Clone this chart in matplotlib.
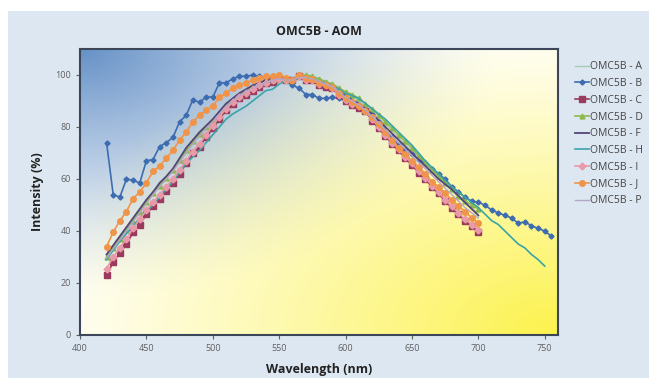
import numpy as np
import matplotlib
matplotlib.use("Agg")
import matplotlib.pyplot as plt
from matplotlib.patches import Rectangle

plt.rcParams['font.family'] = ['Open Sans', 'DejaVu Sans']

# wavelength grid (nm)
wl = list(range(420, 705, 5))
wl_h = list(range(420, 755, 5))
wl_b = list(range(420, 760, 5))

a = [30.5, 34, 37.5, 41, 44.5, 48, 51.5, 55, 58, 61,
     64, 67.5, 71.5, 75, 78, 80.5, 83, 86, 89, 91,
     93, 94.5, 96, 97, 97.5, 98, 98.5, 98, 98, 99,
     99.5, 99, 98, 97, 96, 94.5, 93, 91.5, 90, 88,
     86, 83.5, 81, 78.5, 76, 73.5, 71, 68.5, 65.5, 63,
     60.5, 58, 55.5, 53, 50.5, 48.5, 47]
b = [74, 54, 53, 60, 59.5, 58.5, 67, 67.5, 72.5, 74,
     76, 82, 84.5, 90.5, 89.5, 91.5, 91.5, 97, 97, 98.5,
     99.5, 99.5, 100, 99.5, 99, 99, 98.5, 98, 96, 95,
     92.5, 92.5, 91, 91, 91.5, 91, 90, 89, 88.5, 87,
     85, 82, 79, 76, 73, 71, 69.5, 67.5, 66, 64,
     62, 60, 57, 55, 53, 51.5, 51, 50, 48, 47,
     46, 45, 43, 43.5, 42, 41, 40, 38]
c = [23, 28, 31.5, 35, 39.5, 42.5, 46.5, 49.5, 52.5, 55.5,
     58.5, 62, 66, 70, 72.5, 76, 79.5, 83, 86.5, 89,
     91, 92.5, 94, 95.5, 97, 97.5, 98.5, 98, 98, 99.5,
     98, 98, 96, 95.5, 95, 92.5, 90, 88.5, 87.5, 86,
     82.5, 79.5, 76.5, 73.5, 71, 68, 65.5, 62.5, 60, 57,
     54.5, 51.5, 49, 46.5, 44, 42, 39.5]
d = [30, 33.5, 37, 40.5, 44, 47.5, 51, 54.5, 57.5, 60.5,
     63.5, 67.5, 71, 74.5, 77.5, 80, 82.5, 85.5, 88.5, 90.5,
     92.5, 94, 95.5, 96.5, 97.5, 98, 98.5, 98, 98, 99.5,
     100, 99.5, 98.5, 97.5, 96.5, 95, 93.5, 92.5, 91, 89,
     87, 84.5, 82, 79.5, 77, 74.5, 72, 69, 66.5, 63.5,
     61, 58.5, 56, 53.5, 51.5, 50, 48.5]
f = [31, 34.5, 38, 41.5, 45, 48.5, 52, 55, 58.5, 61,
     64, 68, 72, 75, 78, 80.5, 83, 86, 89, 91,
     93, 94.5, 96, 97, 98, 98.5, 99, 98.5, 98.5, 99,
     99, 98, 97, 96, 95, 93.5, 92, 90.5, 89, 87,
     85, 82.5, 80, 77.5, 75, 72.5, 70, 67.5, 65, 62.5,
     60, 58, 56, 53.5, 51, 48.5, 46]
h = [29, 32.5, 36, 39, 42, 45, 47.5, 50, 53, 56,
     59, 62.5, 66, 68.5, 71, 74, 77, 80, 83, 85,
     86.5, 88, 90, 92, 94, 94.5, 96.5, 98, 98.5, 98.5,
     99, 98.5, 97.5, 97, 96, 94.5, 93, 92, 91, 89,
     87, 85, 83, 80.5, 78, 75.5, 73, 70, 67, 64.5,
     62, 59.5, 57, 55, 53, 51, 49, 46.5, 44, 42.5,
     40, 37.5, 35, 33.5, 31, 29, 26.5]
i = [25.5, 30, 33.5, 37, 41, 44.5, 48, 51, 54, 57,
     60, 63.5, 67, 70.5, 73.5, 77, 80.5, 84, 87, 89.5,
     91.5, 93, 94.5, 96, 97, 98, 98.5, 98, 98, 99.5,
     98, 98, 96.5, 96, 95, 92.5, 90.5, 89, 88, 86,
     83, 80, 77, 74, 71.5, 68.5, 66, 63, 60.5, 57.5,
     55, 52, 49.5, 47, 44.5, 42.5, 40.5]
j = [34, 39.5, 44, 47.5, 52.5, 55, 58.5, 63, 65, 68,
     71, 75, 78, 82, 84.5, 86.5, 88, 91.5, 93, 95,
     96, 97, 98, 99, 99.5, 99.5, 100, 99, 98, 100,
     99, 98.5, 97, 96, 95.5, 93, 91, 89.5, 88, 86,
     84, 81, 78, 75, 72, 69.5, 67, 64.5, 62, 59,
     57, 54.5, 52, 49.5, 47.5, 45, 43]
p = [29.5, 33, 36.5, 40, 43.5, 47, 50.5, 54, 57, 60,
     63, 66.5, 70, 73.5, 76.5, 79.5, 82, 85, 88, 90,
     92, 93.5, 95, 96, 97, 98, 98.5, 98, 98, 99,
     99, 98.5, 97.5, 96.5, 95.5, 93.5, 91.5, 90, 88.5, 86.5,
     84, 81.5, 79, 76.5, 74, 71.5, 69, 66.5, 64, 61.5,
     59, 56.5, 54, 51.5, 49, 47, 45]

series = [
    ("OMC5B - A", wl, a, "#a9c9b8", None, 1.0, 0),
    ("OMC5B - B", wl_b, b, "#3d6db0", "D", 1.2, 2.6),
    ("OMC5B - C", wl, c, "#9b3a5c", "s", 1.2, 4),
    ("OMC5B - D", wl, d, "#8cb84e", "^", 1.2, 3.5),
    ("OMC5B - F", wl, f, "#54457a", None, 1.3, 0),
    ("OMC5B - H", wl_h, h, "#3aa3a9", None, 1.2, 0),
    ("OMC5B - I", wl, i, "#e99aa8", "D", 1.2, 3.5),
    ("OMC5B - J", wl, j, "#f0944a", "o", 1.2, 4),
    ("OMC5B - P", wl, p, "#b3a6c9", None, 1.0, 0),
]

fig = plt.figure(figsize=(6.49, 3.78), dpi=100)
fig.patch.set_facecolor("white")
fig.patches.append(Rectangle((8 / 649, 0), 1, 1 - 11 / 378, transform=fig.transFigure,
                             facecolor="#dde7f2", edgecolor="none", zorder=-10))

ax = fig.add_axes([80 / 649, 43 / 378, 478 / 649, 286 / 378])

# background gradient: blue from top-left corner, yellow from bottom-right corner
n = 240
u, v = np.meshgrid(np.linspace(0, 1, n), np.linspace(1, 0, n))
d_tl = np.hypot(u, 1 - v) / np.sqrt(2)
d_br = np.hypot(1 - u, v) / np.sqrt(2)
wb = np.clip(1 - d_tl / 0.62, 0, 1) ** 1.3
wy = np.clip(1 - d_br / 0.8, 0, 1) ** 1.1
blue = np.array([0.40, 0.57, 0.78])
yellow = np.array([0.99, 0.95, 0.30])
img = np.ones((n, n, 3))
img = img * (1 - wb[..., None]) + blue * wb[..., None]
img = img * (1 - wy[..., None]) + yellow * wy[..., None]
ax.imshow(img, extent=(0, 1, 0, 1), transform=ax.transAxes, aspect="auto", zorder=0)

for name, x, y, col, mk, lw, ms in series:
    ax.plot(x, y, color=col, lw=lw, marker=mk, ms=ms, mec=col, label=name, zorder=3)

ax.set_xlim(400, 760)
ax.set_ylim(0, 110)
ax.set_xticks(range(400, 760, 50))
ax.set_yticks(range(0, 101, 20))
ax.tick_params(labelsize=6.5, colors="#606060", length=3)
for s in ax.spines.values():
    s.set_color("#3b4658")
    s.set_linewidth(1.5)

ax.set_title("OMC5B - AOM", fontsize=9, fontweight="bold", color="#222222", pad=10)
ax.set_ylabel("Intensity (%)", fontsize=9, fontweight="bold", color="#222222", labelpad=8)
ax.set_xlabel("Wavelength (nm)", fontsize=9, fontweight="bold", color="#222222", labelpad=7)

fig.legend(loc="upper left", bbox_to_anchor=(566 / 649, 1 - 52 / 378), frameon=False,
           fontsize=7.5, handlelength=1.3, handletextpad=0.1, labelspacing=0.55,
           labelcolor="#444444")

fig.savefig("out.png", dpi=100)
